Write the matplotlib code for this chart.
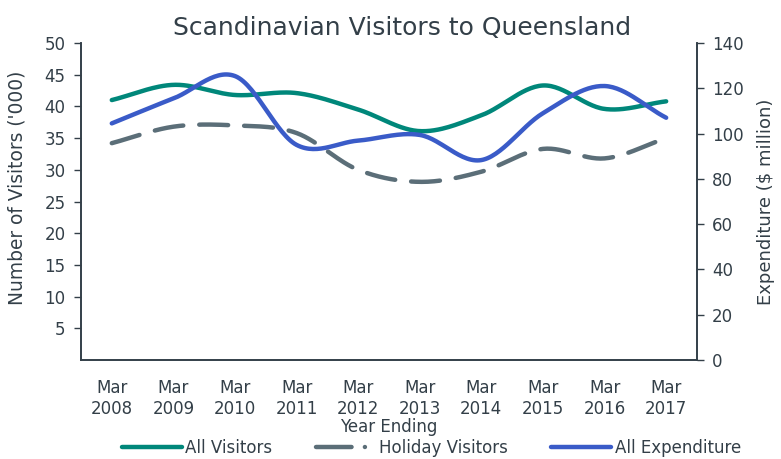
import numpy as np
import matplotlib.pyplot as plt

years = ["2008", "2009", "2010", "2011", "2012", "2013", "2014", "2015", "2016", "2017"]
all_visitors = [41.0, 43.4, 41.8, 42.1, 39.5, 36.1, 38.6, 43.3, 39.6, 40.8]
holiday_visitors = [34.2, 36.8, 37.0, 35.8, 30.0, 28.1, 29.7, 33.3, 31.8, 35.0]
all_expenditure = [104.5, 115.5, 125.4, 95.0, 96.9, 99.4, 88.3, 109.0, 121.0, 107.0]

teal = "#00877A"
grey = "#5B6E78"
blue = "#3A5BC8"
txt = "#333F48"


def smooth(y, n=30):
    # catmull-rom style smoothing, like excel's smoothed line
    y = np.asarray(y, float)
    x = np.arange(len(y), dtype=float)
    px = np.concatenate([[2 * x[0] - x[1]], x, [2 * x[-1] - x[-2]]])
    py = np.concatenate([[2 * y[0] - y[1]], y, [2 * y[-1] - y[-2]]])
    xs, ys = [], []
    for i in range(1, len(px) - 2):
        t = np.linspace(0, 1, n, endpoint=False)
        for arr, out in ((px, xs), (py, ys)):
            p0, p1, p2, p3 = arr[i - 1], arr[i], arr[i + 1], arr[i + 2]
            out.append(0.5 * ((2 * p1) + (-p0 + p2) * t
                              + (2 * p0 - 5 * p1 + 4 * p2 - p3) * t ** 2
                              + (-p0 + 3 * p1 - 3 * p2 + p3) * t ** 3))
    xs.append([x[-1]])
    ys.append([y[-1]])
    return np.concatenate(xs), np.concatenate(ys)


plt.rcParams['font.family'] = ['DejaVu Sans']
fig = plt.figure(figsize=(7.81, 4.59), dpi=100)
ax = fig.add_axes([0.1037, 0.2157, 0.7887, 0.6906])
ax2 = ax.twinx()

x, y = smooth(all_visitors)
l1, = ax.plot(x, y, color=teal, lw=3.2, solid_capstyle='round', label="All Visitors")
x, y = smooth(holiday_visitors)
l2, = ax.plot(x, y, color=grey, lw=3.2, dashes=(6.5, 3.6), dash_capstyle='round',
              label="Holiday Visitors")
x, y = smooth(all_expenditure)
l3, = ax2.plot(x, y, color=blue, lw=3.2, solid_capstyle='round', label="All Expenditure")

ax.set_xlim(-0.5, 9.5)
ax.set_ylim(0, 50)
ax2.set_ylim(0, 140)
ax.set_yticks(range(5, 51, 5))
ax2.set_yticks(range(0, 141, 20))
ax.set_xticks(range(len(years)))
ax.set_xticklabels(["Mar\n" + yr for yr in years])

for a in (ax, ax2):
    a.spines['top'].set_visible(False)
    for s in a.spines.values():
        s.set_color(txt)
        s.set_linewidth(1.2)
    a.tick_params(axis='y', colors=txt, labelsize=12, length=5, width=1,
                  labelcolor=txt, pad=6)
ax.tick_params(axis='x', length=0, labelsize=12, labelcolor=txt, pad=14)

ax.set_ylabel("Number of Visitors ('000)", fontsize=13.4, color=txt)
ax.yaxis.set_label_coords(-0.089, 0.543)
ax2.set_ylabel("Expenditure ($ million)", fontsize=13, color=txt)
ax2.yaxis.set_label_coords(1.097, 0.5)
ax.set_xlabel("Year Ending", fontsize=12, color=txt)
ax.xaxis.set_label_coords(0.5, -0.183)
fig.text(0.515, 0.94, "Scandinavian Visitors to Queensland", fontsize=18,
         color=txt, ha='center', va='center')

fig.legend(handles=[l1, l2, l3], loc='center', ncol=3, frameon=False,
           bbox_to_anchor=(0.5525, 0.024), fontsize=12, handlelength=3.6,
           columnspacing=2.6, labelcolor=txt, handletextpad=0.2)
leg = fig.legends[0]
# legend handle for holiday visitors: long dash then a dot
leg.get_lines()[1].set_dashes((8, 3, 0.01, 10))

fig.savefig("out.png", dpi=100)
